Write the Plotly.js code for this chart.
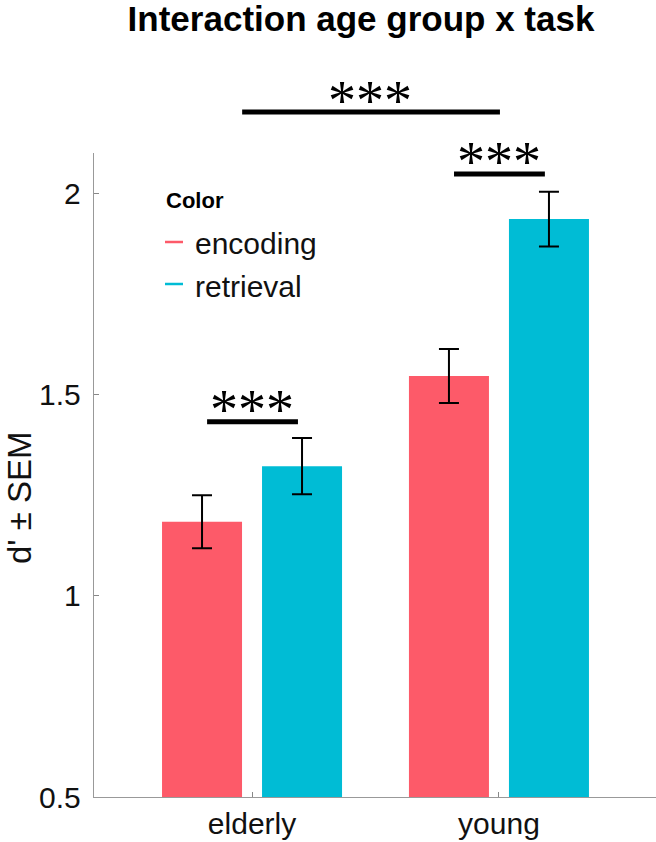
<!DOCTYPE html>
<html>
<head>
<meta charset="utf-8">
<script src="https://cdn.plot.ly/plotly-3.0.1.min.js"></script>
<style>html,body{margin:0;padding:0;background:#fff;}#chart{width:656px;height:842px;}</style>
</head>
<body>
<div id="chart"></div>
<script>
// ---- data ----
const groups = ['elderly', 'young'];
const groupX = [1, 2];
const encoding = [1.184, 1.546];
const encodingSem = [0.066, 0.067];
const retrieval = [1.322, 1.936];
const retrievalSem = [0.070, 0.068];
const seriesNames = ['encoding', 'retrieval'];
const yTicks = [0.5, 1, 1.5, 2];
const yTickText = ['0.5', '1', '1.5', '2'];
// significance brackets
const sigX0 = [0.96, 1.818, 0.818];
const sigX1 = [2.004, 2.186, 1.186];
const sigLineY = [2.202, 2.048, 1.432];
const sigStarX = [1.478, 2.0, 1.0];
const sigStarY = [2.252, 2.100, 1.484];
const sigLabel = ['***', '***', '***'];

// ---- style ----
const RED = '#fd5a69';
const CYAN = '#00bcd5';
const Y_RANGE = [0.5, 2.1];
const X_RANGE = [0.36, 2.636];
const FONT = 'Liberation Sans, Arial, Helvetica, sans-serif';
const toPaperY = v => (v - Y_RANGE[0]) / (Y_RANGE[1] - Y_RANGE[0]);

const errStyle = (arr) => ({type: 'data', array: arr, visible: true, color: '#000', thickness: 2, width: 10});

const traces = [
  {type: 'bar', name: seriesNames[0], x: groupX, y: encoding, marker: {color: RED}, error_y: errStyle(encodingSem), showlegend: false, hoverinfo: 'skip'},
  {type: 'bar', name: seriesNames[1], x: groupX, y: retrieval, marker: {color: CYAN}, error_y: errStyle(retrievalSem), showlegend: false, hoverinfo: 'skip'}
];

const shapes = [];
const annotations = [];
for (let i = 0; i < sigLabel.length; i++) {
  shapes.push({type: 'line', xref: 'x', yref: 'paper', x0: sigX0[i], x1: sigX1[i], y0: toPaperY(sigLineY[i]), y1: toPaperY(sigLineY[i]), line: {color: '#000', width: 5}});
  annotations.push({xref: 'x', yref: 'paper', x: sigStarX[i], y: toPaperY(sigStarY[i]), text: sigLabel[i], showarrow: false, xanchor: 'center', yanchor: 'middle', yshift: -9, font: {family: 'Liberation Serif, serif', size: 56, color: '#000'}});
}

// custom legend (paper coords)
const PLOT_L = 94, PLOT_W = 562, PLOT_B = 797, PLOT_H = 644;
const px = v => (v - PLOT_L) / PLOT_W;
const py = v => (PLOT_B - v) / PLOT_H;
annotations.push({xref: 'paper', yref: 'paper', x: px(164), y: py(200), text: '<b>Color</b>', showarrow: false, xanchor: 'left', yanchor: 'middle', font: {family: FONT, size: 22, color: '#000'}});
const legColors = [RED, CYAN];
const legY = [244, 286];
for (let i = 0; i < seriesNames.length; i++) {
  shapes.push({type: 'line', xref: 'paper', yref: 'paper', x0: px(165), x1: px(183), y0: py(legY[i] - 2), y1: py(legY[i] - 2), line: {color: legColors[i], width: 2.5}});
  annotations.push({xref: 'paper', yref: 'paper', x: px(193), y: py(legY[i]), text: seriesNames[i], showarrow: false, xanchor: 'left', yanchor: 'middle', font: {family: FONT, size: 30, color: '#111'}});
}
// y axis title
annotations.push({xref: 'paper', yref: 'paper', x: px(19), y: py(498), text: "d' ± SEM", textangle: -90, showarrow: false, xanchor: 'center', yanchor: 'middle', font: {family: FONT, size: 33, color: '#111'}});

const layout = {
  width: 656, height: 842,
  margin: {l: 94, r: 0, t: 153, b: 45, pad: 0},
  paper_bgcolor: '#fff', plot_bgcolor: '#fff',
  font: {family: FONT, color: '#111'},
  title: {text: '<b>Interaction age group x task</b>', font: {family: FONT, size: 35, color: '#000'}, x: 361 / 656, xanchor: 'center', xref: 'container', yref: 'container', y: 1 - 19 / 842, yanchor: 'middle'},
  barmode: 'group', bargap: 0.19, bargroupgap: 0.2,
  xaxis: {range: X_RANGE, tickmode: 'array', tickvals: groupX, ticktext: groups, ticks: 'inside', ticklen: 5, tickcolor: '#888', showline: true, linecolor: '#999', linewidth: 1.2, showgrid: false, zeroline: false, tickfont: {family: FONT, size: 30, color: '#111'}, ticklabelstandoff: 0, fixedrange: true},
  yaxis: {range: Y_RANGE, tickmode: 'array', tickvals: yTicks, ticktext: yTickText, ticks: 'inside', ticklen: 5, tickcolor: '#888', showline: true, linecolor: '#999', linewidth: 1.2, showgrid: false, zeroline: false, tickfont: {family: FONT, size: 30, color: '#111'}, ticklabelstandoff: 6, fixedrange: true},
  shapes: shapes,
  annotations: annotations,
  showlegend: false
};

Plotly.newPlot('chart', traces, layout, {displayModeBar: false, staticPlot: true});
</script>
</body>
</html>
